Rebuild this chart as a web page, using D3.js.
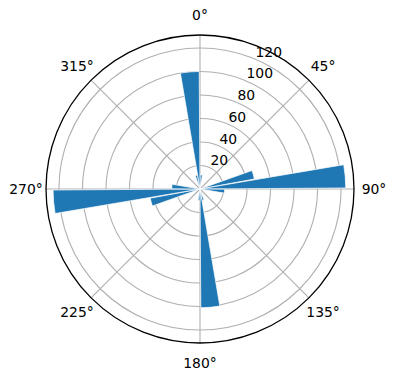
<!DOCTYPE html>
<html><head><meta charset="utf-8">
<script src="https://cdn.jsdelivr.net/npm/d3@7"></script>
<style>body{margin:0;background:#fff}svg{display:block}text{font-family:"DejaVu Sans",sans-serif;font-size:13.9px;fill:#000}</style>
</head><body>
<script>
// bin centres (degrees, clockwise from north) and bar heights
const directions = [5, 75, 85, 95, 165, 175, 185, 255, 265, 275, 345, 355];
const counts     = [12, 47, 124, 21, 10, 101, 10, 43, 125, 24, 12, 100];
const radialTicks = [20, 40, 60, 80, 100, 120];
const angleTicks = [0, 45, 90, 135, 180, 225, 270, 315];
const angleLabels = ["0°", "45°", "90°", "135°", "180°", "225°", "270°", "315°"];
const rMax = 131;
const barWidthDeg = 9.2;

const W = 396, H = 380, cx = 200, cy = 189, R = 154;
const svg = d3.select("body").append("svg").attr("width", W).attr("height", H);
const g = svg.append("g").attr("transform", `translate(${cx},${cy})`);
const r = d3.scaleLinear().domain([0, rMax]).range([0, R]);
const rad = d => d * Math.PI / 180;

// grid circles
g.selectAll("circle.grid").data(radialTicks).join("circle")
  .attr("r", d => r(d)).attr("fill", "none").attr("stroke", "#b0b0b0").attr("stroke-width", 1.1);
// spokes
g.selectAll("line.spoke").data(angleTicks).join("line")
  .attr("x1", 0).attr("y1", 0)
  .attr("x2", d => R * Math.sin(rad(d))).attr("y2", d => -R * Math.cos(rad(d)))
  .attr("stroke", "#b0b0b0").attr("stroke-width", 1.1);

// bars
const arc = d3.arc();
g.selectAll("path.bar").data(directions).join("path")
  .attr("d", (d, i) => arc({innerRadius: 0, outerRadius: r(counts[i]),
        startAngle: rad(d - barWidthDeg / 2), endAngle: rad(d + barWidthDeg / 2)}))
  .attr("fill", "#1f77b4").attr("stroke", "#fff").attr("stroke-width", 0.7);

// outer frame
g.append("circle").attr("r", R).attr("fill", "none").attr("stroke", "#000").attr("stroke-width", 1.3);

// radial labels at 22.5°
g.selectAll("text.rl").data(radialTicks).join("text")
  .attr("x", d => r(d) * Math.sin(rad(22.5)) + 1.5)
  .attr("y", d => -r(d) * Math.cos(rad(22.5)) - 2)
  .attr("text-anchor", "start").text(d => d);

// angle labels
const lr = R + 20;
g.selectAll("text.al").data(angleTicks).join("text")
  .attr("x", d => lr * Math.sin(rad(d)))
  .attr("y", d => -lr * Math.cos(rad(d)))
  .attr("text-anchor", "middle").attr("dominant-baseline", "central")
  .text((d, i) => angleLabels[i]);
</script>
</body></html>
